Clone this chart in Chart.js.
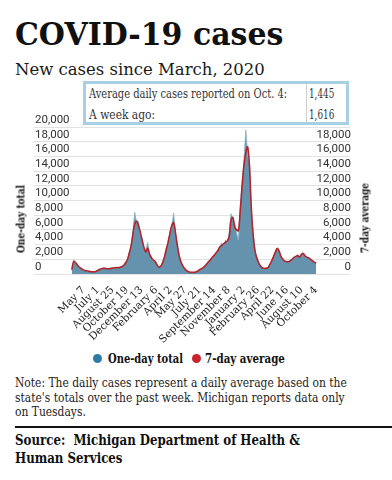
<!DOCTYPE html>
<html>
<head>
<meta charset="utf-8">
<title>COVID-19 cases</title>
<script src="https://cdn.jsdelivr.net/npm/chart.js@4.4.1/dist/chart.umd.min.js"></script>
<style>
  body { margin: 0; background: #fff; }
  #page { position: relative; width: 392px; height: 480px; overflow: hidden; font-family: 'DejaVu Serif', serif; color: #111; }
  .abs { position: absolute; white-space: nowrap; }
  .fit { display: inline-block; transform-origin: left center; }
  #title { left: 15px; top: 18px; font-size: 32px; line-height: 32px; font-weight: bold; }
  #subtitle { left: 15px; top: 61px; font-size: 17px; line-height: 17px; color: #1a1a1a; }
  #infoBox { position: absolute; left: 83px; top: 81px; width: 260px; height: 38px; border: 3px solid #a9cfe4; background: #fff; font-size: 12px; color: #333; }
  #infoBox .divider { position: absolute; left: 220px; top: 0; bottom: 0; width: 1px; background: #cfcfcf; }
  #infoBox .cell { position: absolute; line-height: 12px; white-space: nowrap; }
  #chart { position: absolute; left: 0; top: 100px; }
  .vt { position: absolute; transform: translate(-50%, -50%) rotate(-90deg); white-space: nowrap; font-size: 11px; line-height: 11px; font-weight: bold; }
  .vt .fit { transform-origin: center center; }
  #legend { left: 0; top: 352px; width: 392px; font-size: 13px; line-height: 13px; font-weight: bold; }
  .dot { position: absolute; width: 9px; height: 9px; border-radius: 50%; top: 2px; }
  #note { left: 15px; top: 376px; font-size: 12px; line-height: 14.5px; color: #222; }
  #rule { position: absolute; left: 15px; top: 426px; width: 377px; height: 2px; background: #111; }
  #source { left: 15px; top: 431px; font-size: 14px; line-height: 18px; font-weight: bold; }
</style>
</head>
<body>
<div id="page">
  <div id="title" class="abs"><span class="fit" data-w="268">COVID-19 cases</span></div>
  <div id="subtitle" class="abs"><span class="fit" data-w="250">New cases since March, 2020</span></div>

  <canvas id="chart" width="392" height="245"></canvas>

  <div id="infoBox">
    <div class="divider"></div>
    <div class="cell" style="left:3px; top:4px;"><span class="fit" data-w="198">Average daily cases reported on Oct. 4:</span></div>
    <div class="cell" style="left:3px; top:25px;"><span class="fit" data-w="66">A week ago:</span></div>
    <div class="cell" style="left:223px; top:4px;"><span class="fit" id="latestVal" data-w="25"></span></div>
    <div class="cell" style="left:223px; top:25px;"><span class="fit" id="weekAgoVal" data-w="25"></span></div>
  </div>

  <div class="vt" style="left:21px; top:219px;"><span class="fit" data-w="68">One-day total</span></div>
  <div class="vt" style="left:365px; top:218px;"><span class="fit" data-w="70">7-day average</span></div>

  <div id="legend" class="abs">
    <div class="dot" style="left:93px; background:#2f7ba6;"></div>
    <div class="abs" style="left:108px; top:0;"><span class="fit" data-w="75">One-day total</span></div>
    <div class="dot" style="left:192px; background:#c9242b;"></div>
    <div class="abs" style="left:205px; top:0;"><span class="fit" data-w="80">7-day average</span></div>
  </div>

  <div id="note" class="abs"><span class="fit" data-w="332">Note: The daily cases represent a daily average based on the<br>state's totals over the past week. Michigan reports data only<br>on Tuesdays.</span></div>
  <div id="rule"></div>
  <div id="source" class="abs"><span class="fit" data-w="285">Source:&nbsp; Michigan Department of Health &amp;<br>Human Services</span></div>
</div>

<script>
// Weekly readings, first one on this date
const firstWeek = '2020-03-24';

// One-day total (cases)
const dailyCases = [
  500, 1900, 1400, 1300, 900, 800, 550, 500, 380, 420, 300, 310, 280, 380, 450, 680, 700, 820, 740, 760,
  680, 800, 780, 860, 850, 900, 880, 1050, 1100, 1600, 1900, 3000, 3700, 5800, 8400, 7000, 7100, 5400, 4800, 3400,
  3200, 4300, 2500, 2400, 1800, 1800, 1200, 1000, 1000, 1600, 2200, 3500, 4200, 5800, 6400, 8300, 5400, 4100, 2400, 1700,
  1000, 750, 420, 320, 230, 240, 210, 300, 380, 620, 700, 920, 1050, 1500, 1650, 2100, 2200, 2700, 2800, 3400,
  3600, 4200, 3900, 4600, 4300, 5600, 8200, 7400, 6900, 5600, 4600, 9200, 12400, 15500, 19600, 16200, 15000, 8200, 5600, 2900,
  2300, 1400, 1100, 780, 720, 820, 900, 1250, 1900, 2300, 3100, 3400, 3200, 2300, 2100, 1700, 1750, 1600, 1900, 1950,
  2300, 2350, 2600, 2250, 2800, 2700, 2500, 2250, 2250, 1950, 1850, 1550, 1400
];

// 7-day average (cases)
const avgCases = [
  600, 1700, 1550, 1200, 950, 750, 600, 480, 420, 380, 330, 290, 300, 350, 480, 620, 720, 780, 760, 720,
  700, 760, 800, 830, 880, 860, 900, 980, 1150, 1500, 1950, 2800, 3800, 5400, 6800, 7200, 6600, 5700, 4600, 3600,
  3000, 3500, 2700, 2200, 1900, 1700, 1250, 950, 1050, 1500, 2300, 3300, 4300, 5500, 6600, 7000, 5600, 3900, 2500, 1600,
  1100, 700, 450, 300, 240, 220, 230, 280, 400, 580, 720, 880, 1100, 1400, 1700, 1950, 2300, 2550, 2900, 3200,
  3700, 3900, 4100, 4300, 4500, 5000, 7300, 7700, 6400, 6000, 5900, 8600, 12000, 14800, 16500, 17300, 14600, 8800, 5200, 3100,
  2100, 1500, 1050, 820, 760, 780, 860, 1300, 1800, 2400, 3000, 3500, 3100, 2400, 2000, 1750, 1700, 1650, 1800, 2000,
  2250, 2400, 2500, 2300, 2650, 2800, 2450, 2300, 2200, 2000, 1800, 1616, 1445
];

const tickDates = [
  '2020-05-07', '2020-07-01', '2020-08-25', '2020-10-19', '2020-12-13', '2021-02-06',
  '2021-04-02', '2021-05-27', '2021-07-21', '2021-09-14', '2021-11-08', '2022-01-02',
  '2022-02-26', '2022-04-22', '2022-06-16', '2022-08-10', '2022-10-04'
];
const tickLabels = [
  'May 7', 'July 1', 'August 25', 'October 19', 'December 13', 'February 6',
  'April 2', 'May 27', 'July 21', 'September 14', 'November 8', 'January 2',
  'February 26', 'April 22', 'June 16', 'August 10', 'October 4'
];

const yTicks = [0, 2000, 4000, 6000, 8000, 10000, 12000, 14000, 16000, 18000, 20000];

// days since the first weekly reading
function dayNum(iso) {
  return Math.round((Date.parse(iso) - Date.parse(firstWeek)) / 86400000);
}
function toPoints(values) {
  return values.map((v, i) => ({ x: i * 7, y: v }));
}

const lastDay = (avgCases.length - 1) * 7;
const pxPerDay = 246 / lastDay;

document.getElementById('latestVal').textContent = avgCases[avgCases.length - 1].toLocaleString('en-US');
document.getElementById('weekAgoVal').textContent = avgCases[avgCases.length - 2].toLocaleString('en-US');

const tickFont = { family: 'Roboto', size: 11.5 };

const ctx = document.getElementById('chart').getContext('2d');
const chart = new Chart(ctx, {
    type: 'line',
    data: {
        datasets: [{
            label: '7-day average',
            data: toPoints(avgCases),
            borderColor: '#b0262c',
            borderWidth: 1.6,
            pointRadius: 0,
            fill: false,
            tension: 0.35,
            order: 0
        }, {
            label: 'One-day total',
            data: toPoints(dailyCases),
            borderColor: '#86aec4',
            borderWidth: 0.8,
            backgroundColor: '#6593ad',
            pointRadius: 0,
            fill: 'origin',
            tension: 0,
            order: 1
        }]
    },
    options: {
        responsive: false,
        animation: false,
        devicePixelRatio: 1,
        layout: {
            padding: { left: 32, right: 40, top: 27, bottom: 0 }
        },
        plugins: {
            legend: { display: false },
            tooltip: { enabled: false }
        },
        scales: {
            x: {
                type: 'linear',
                min: -Math.round(38 / pxPerDay),
                max: lastDay + Math.round(34 / pxPerDay),
                grid: { display: false },
                border: { display: false },
                afterBuildTicks: function(scale) {
                    scale.ticks = tickDates.map(d => ({ value: dayNum(d) }));
                },
                afterFit: function(scale) {
                    scale.height = 71;
                },
                ticks: {
                    autoSkip: false,
                    minRotation: 45,
                    maxRotation: 45,
                    padding: 2,
                    color: '#222',
                    font: { family: 'DejaVu Serif', size: 10.5 },
                    callback: function(value, index) {
                        return tickLabels[index];
                    }
                }
            },
            y: {
                position: 'left',
                min: 0,
                max: 20000,
                afterBuildTicks: function(scale) {
                    scale.ticks = yTicks.map(v => ({ value: v }));
                },
                grid: { color: '#e2e2e2', drawTicks: false },
                border: { display: false },
                ticks: {
                    autoSkip: false,
                    mirror: true,
                    padding: 1,
                    labelOffset: -7,
                    color: '#333',
                    font: tickFont,
                    callback: v => v.toLocaleString('en-US')
                }
            },
            y1: {
                position: 'right',
                min: 0,
                max: 20000,
                afterBuildTicks: function(scale) {
                    scale.ticks = yTicks.slice(0, -1).map(v => ({ value: v }));
                },
                grid: { display: false, drawTicks: false },
                border: { display: false },
                ticks: {
                    autoSkip: false,
                    mirror: true,
                    padding: 1,
                    labelOffset: -7,
                    color: '#333',
                    font: tickFont,
                    callback: v => v.toLocaleString('en-US')
                }
            }
        }
    }
});

// squeeze the html text to the widths of the original slab font
function fitText() {
    document.querySelectorAll('.fit').forEach(function(el) {
        const target = parseFloat(el.dataset.w);
        const s = target / el.offsetWidth;
        el.style.transform = 'scaleX(' + s.toFixed(3) + ')';
    });
}
fitText();
</script>
</body>
</html>
